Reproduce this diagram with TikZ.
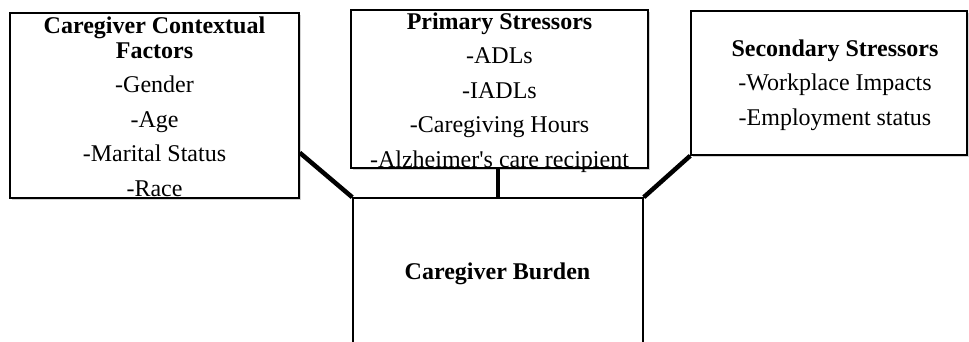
\documentclass[tikz,border=0pt]{standalone}
\usepackage{fontspec}
\setmainfont{Liberation Serif}
\usetikzlibrary{positioning, shadows}

\begin{document}
\begin{tikzpicture}[x=1pt, y=1pt,
					box/.style={draw, line width=1.5pt, fill=white, inner sep=0pt},
					shade box/.style={box, drop shadow={shadow xshift=2pt, shadow yshift=-2pt, opacity=0.35}},
					txt/.style={align=center, anchor=base, inner sep=0pt, font=\fontsize{24}{34.5}\selectfont},
					link/.style={line width=4.5pt}]

	\clip (0,0) rectangle (969,341);

	\node[shade box, minimum width=289pt, minimum height=185pt] (ctx) at (154.5,235.5) {};
	\node[shade box, minimum width=297pt, minimum height=158pt] (prim) at (499.5,252) {};
	\node[shade box, minimum width=276pt, minimum height=144pt] (sec) at (829,258) {};
	\node[box, minimum width=290pt, minimum height=180pt] (burden) at (498,53) {};

	\node[txt] (ctx text) at (154.5,145) {\textbf{Caregiver Contextual}\\[-9.5pt]\textbf{Factors}\\-Gender\\-Age\\-Marital Status\\-Race};
	\node[txt] (prim text) at (499.5,174) {\textbf{Primary Stressors}\\-ADLs\\-IADLs\\-Caregiving Hours\\-Alzheimer\textquotesingle s care recipient};
	\node[txt] (sec text) at (835,216) {\textbf{Secondary Stressors}\\-Workplace Impacts\\-Employment status};
	\node[txt] (burden text) at (497.5,62) {\textbf{Caregiver Burden}};

	\draw[link] (ctx.-18) -- (burden.north west);
	\draw[link] (burden.north) -- (burden.north |- prim.south);
	\draw[link] (burden.north east) -- (sec.south west);
\end{tikzpicture}
\end{document}
